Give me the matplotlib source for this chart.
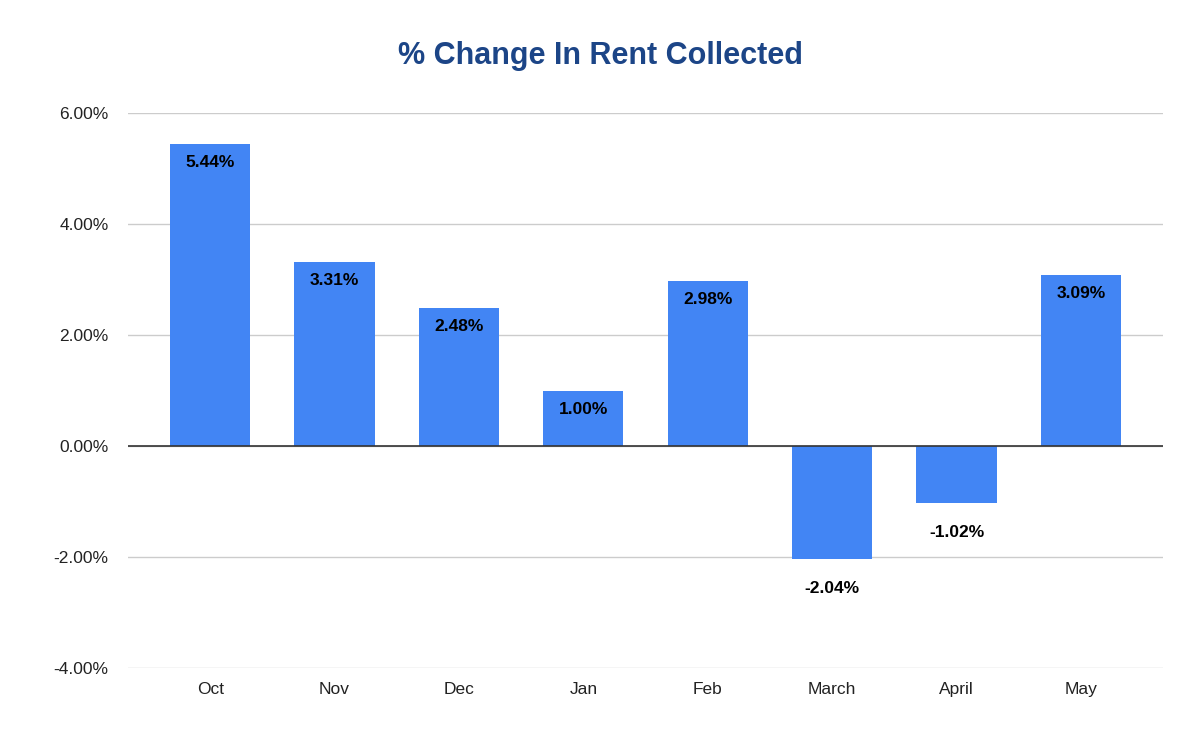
#!/usr/bin/env python3
"""
Gráfico de barras: variação percentual do aluguel recebido por mês.
"""
from __future__ import annotations

import matplotlib

matplotlib.use("Agg")
import matplotlib.pyplot as plt
from matplotlib.ticker import FuncFormatter
import numpy as np


def _fmt_pct(value, pos=None):
    """Formata o eixo y como porcentagem com duas casas."""
    return f"{value:.2f}%"


def run_renderer(output_path: str) -> None:
    months = ["Oct", "Nov", "Dec", "Jan", "Feb", "March", "April", "May"]
    change = np.array([5.44, 3.31, 2.48, 1.00, 2.98, -2.04, -1.02, 3.09])

    plt.rcParams["font.family"] = ["Liberation Sans", "DejaVu Sans"]

    fig = plt.figure(figsize=(12, 7.42))
    ax = fig.add_axes([0.1067, 0.0997, 0.8625, 0.748])

    x = np.arange(len(months))
    ax.bar(x, change, width=0.645, color="#4285f4", zorder=3)

    for i, val in enumerate(change):
        if val >= 0:
            ax.text(i, val - 0.2, f"{val:.2f}%", ha="center", va="top",
                    fontsize=12.5, fontweight="bold", zorder=4)
        else:
            ax.text(i, val - 0.4, f"{val:.2f}%", ha="center", va="top",
                    fontsize=12.5, fontweight="bold", zorder=4)

    ax.set_ylim(-4, 6)
    ax.set_xlim(-0.66, len(months) - 1 + 0.66)
    ax.set_yticks(np.arange(-4, 7, 2))
    ax.yaxis.set_major_formatter(FuncFormatter(_fmt_pct))
    ax.set_xticks(x)
    ax.set_xticklabels(months)
    ax.tick_params(axis="both", length=0, labelsize=12.5, colors="#222222")
    ax.tick_params(axis="x", pad=10)
    ax.tick_params(axis="y", pad=14)

    ax.grid(axis="y", color="#cccccc", lw=1, zorder=0)
    ax.axhline(0, color="#333333", lw=1.2, zorder=5)
    for side in ax.spines.values():
        side.set_visible(False)

    fig.text(0.5, 0.925, "% Change In Rent Collected", ha="center", va="center",
             fontsize=22, fontweight="bold", color="#1c4587")

    plt.savefig(output_path, dpi=100)
    plt.close(fig)


if __name__ == "__main__":
    run_renderer("out.png")
